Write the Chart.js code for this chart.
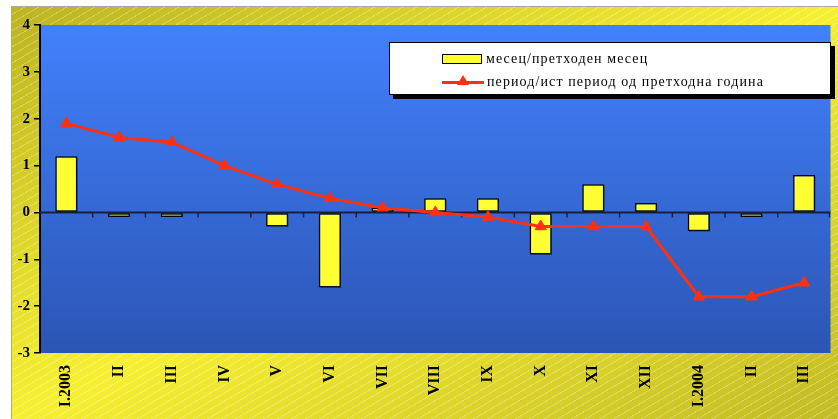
<!DOCTYPE html>
<html lang="mk">
<head>
  <meta charset="UTF-8" />
  <title>Индекси</title>
  <script src="https://cdn.jsdelivr.net/npm/chart.js"></script>
  <style>
    * { box-sizing: border-box; margin: 0; padding: 0; }
    body { background: #fff; width: 838px; height: 419px; overflow: hidden; }
    .wrap { position: relative; width: 838px; height: 419px; background: #fff; }
    .paper {
      position: absolute; left: 11px; top: 6px; right: 0; bottom: 0;
      border-left: 1px solid #a8a8a8; border-top: 1px solid #a8a8a8;
      background:
        repeating-linear-gradient(150deg, rgba(255,255,255,0) 0 6px, rgba(255,255,255,0.28) 6px 7px),
        linear-gradient(to bottom right, #bcb421 0%, #f6f031 50%, #c2bb24 100%);
    }
    canvas { position: absolute; left: 0; top: 0; }
    .legend {
      position: absolute; left: 389px; top: 42px; width: 442px; height: 53px;
      background: #fff; border: 1px solid #000; box-shadow: 4px 4px 0 #000;
      font-family: 'Liberation Serif', serif; font-size: 14px; letter-spacing: 1.1px; color: #000;
    }
    .legend .row { position: absolute; left: 52px; height: 16px; display: flex; align-items: center; }
    .legend .bar { width: 40px; height: 10px; background: #ffff33; border: 1px solid #000; margin-right: 4px; }
    .legend .line { position: relative; width: 42px; height: 3px; background: #ff3010; margin-right: 3px; }
    .legend .line::after {
      content: ""; position: absolute; left: 15px; top: -6px;
      border-left: 6px solid transparent; border-right: 6px solid transparent; border-bottom: 10px solid #ff3010;
    }
  </style>
</head>
<body>
<div class="wrap">
  <div class="paper"></div>
  <canvas id="chart" width="838" height="419"></canvas>
  <div class="legend" id="legend"></div>
</div>

<script>
  const categories = ['I.2003', 'II', 'III', 'IV', 'V', 'VI', 'VII', 'VIII', 'IX', 'X', 'XI', 'XII', 'I.2004', 'II', 'III'];
  const monthName = 'месец/претходен месец';
  const monthValues = [1.2, -0.1, -0.1, 0, -0.3, -1.6, 0.1, 0.3, 0.3, -0.9, 0.6, 0.2, -0.4, -0.1, 0.8];
  const yearName = 'период/ист период од претходна година';
  const yearValues = [1.9, 1.6, 1.5, 1.0, 0.6, 0.3, 0.1, 0.0, -0.1, -0.3, -0.3, -0.3, -1.8, -1.8, -1.5];
  const yTicks = [-3, -2, -1, 0, 1, 2, 3, 4];

  // legend in the plot, built from the series names
  document.getElementById('legend').innerHTML = `
    <div class="row" style="top:8px"><span class="bar"></span>${monthName}</div>
    <div class="row" style="top:31px"><span class="line"></span>${yearName}</div>`;

  const plotBg = {
    id: 'plotBg',
    beforeDraw(chart) {
      const { ctx, chartArea: a } = chart;
      const g = ctx.createLinearGradient(0, a.top, 0, a.bottom);
      g.addColorStop(0, '#4281fd');
      g.addColorStop(1, '#2b55b4');
      ctx.save();
      ctx.fillStyle = g;
      ctx.fillRect(a.left, a.top, a.right - a.left, a.bottom - a.top);
      ctx.restore();
    },
    beforeDatasetsDraw(chart) {
      // zero line with ticks between categories
      const { ctx, chartArea: a } = chart;
      const x = chart.scales.x, y0 = chart.scales.y.getPixelForValue(0);
      ctx.save();
      ctx.strokeStyle = '#18203c';
      ctx.lineWidth = 2;
      ctx.beginPath();
      ctx.moveTo(a.left, y0);
      ctx.lineTo(a.right, y0);
      ctx.stroke();
      ctx.lineWidth = 1.5;
      for (let i = 1; i <= categories.length; i++) {
        const px = i < categories.length ? (x.getPixelForValue(i - 1) + x.getPixelForValue(i)) / 2 : a.right - 1;
        ctx.beginPath();
        ctx.moveTo(px, y0);
        ctx.lineTo(px, y0 + 5);
        ctx.stroke();
      }
      ctx.restore();
    },
    beforeDatasetDraw(chart, args) {
      if (args.meta.type === 'bar') {
        const ctx = chart.ctx;
        ctx.save();
        ctx.shadowColor = 'rgba(10,20,60,0.75)';
        ctx.shadowOffsetX = 2;
        ctx.shadowOffsetY = 2;
      }
    },
    afterDatasetDraw(chart, args) {
      if (args.meta.type === 'bar') chart.ctx.restore();
    }
  };

  new Chart(document.getElementById('chart'), {
    type: 'bar',
    data: {
      labels: categories,
      datasets: [
        {
          type: 'line',
          label: yearName,
          data: yearValues,
          borderColor: '#ff3010',
          backgroundColor: '#ff3010',
          borderWidth: 3,
          pointStyle: 'triangle',
          pointRadius: 6.5,
          pointBorderWidth: 1,
          tension: 0,
          order: 1
        },
        {
          label: monthName,
          data: monthValues,
          backgroundColor: '#ffff33',
          borderColor: '#000',
          borderWidth: 1.5,
          borderSkipped: false,
          barPercentage: 0.42,
          categoryPercentage: 1,
          order: 2
        }
      ]
    },
    options: {
      responsive: false,
      animation: false,
      layout: { padding: { left: 11, top: 25, right: 4, bottom: 0 } },
      plugins: { legend: { display: false }, tooltip: { enabled: false } },
      scales: {
        x: {
          grid: { display: false, drawTicks: false },
          border: { display: false },
          ticks: {
            color: '#000',
            minRotation: 90,
            maxRotation: 90,
            autoSkip: false,
            padding: 12,
            font: { family: 'Liberation Serif', size: 16, weight: 'bold' }
          },
          afterFit(s) { s.height = 66; s.paddingLeft = 0; s.paddingRight = 0; }
        },
        y: {
          min: -3,
          max: 4,
          afterBuildTicks(s) { s.ticks = yTicks.map(v => ({ value: v })); },
          grid: { drawOnChartArea: false, drawTicks: true, tickLength: 6, color: '#000', lineWidth: 1.5 },
          border: { color: '#000', width: 2 },
          ticks: {
            color: '#000',
            padding: 4,
            font: { family: 'Liberation Serif', size: 15, weight: 'bold' }
          },
          afterFit(s) { s.width = 29; }
        }
      }
    },
    plugins: [plotBg]
  });
</script>
</body>
</html>
